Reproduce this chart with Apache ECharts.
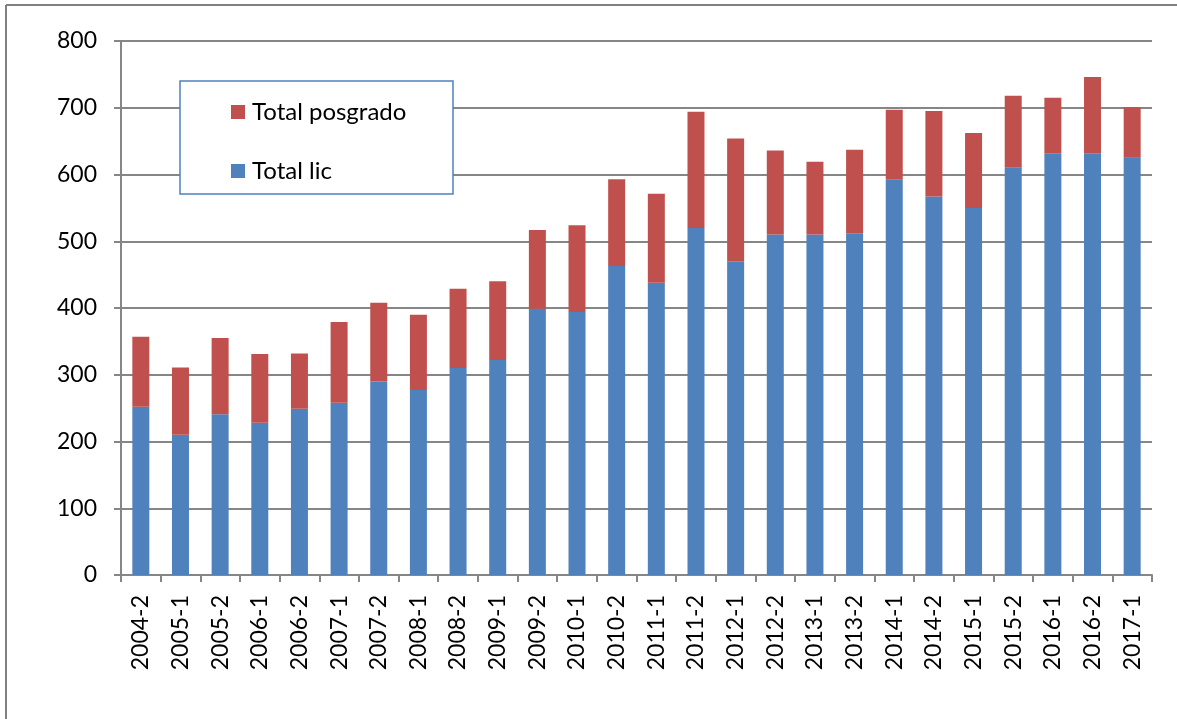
<!DOCTYPE html>
<html>
<head>
<meta charset="utf-8">
<script src="https://cdn.jsdelivr.net/npm/echarts@6/dist/echarts.min.js"></script>
<style>
  html, body { margin: 0; padding: 0; background: #fff; }
  #chart { width: 1177px; height: 719px; }
</style>
</head>
<body>
<div id="chart"></div>
<script>
// periods (semesters)
const periods = ['2004-2', '2005-1', '2005-2', '2006-1', '2006-2', '2007-1', '2007-2', '2008-1', '2008-2',
  '2009-1', '2009-2', '2010-1', '2010-2', '2011-1', '2011-2', '2012-1', '2012-2', '2013-1', '2013-2',
  '2014-1', '2014-2', '2015-1', '2015-2', '2016-1', '2016-2', '2017-1']
// undergraduate totals
const totalLic = [252, 210, 241, 228, 249, 258, 290, 277, 310, 322, 399, 394, 463, 438, 520, 470, 510, 510, 512,
  592, 567, 550, 610, 632, 632, 625]
// graduate totals (stacked on top)
const totalPosgrado = [105, 101, 114, 103, 83, 121, 118, 113, 119, 118, 118, 130, 130, 133, 174, 184, 126, 109, 125,
  105, 128, 112, 108, 83, 114, 76]
const yTicks = { min: 0, max: 800, interval: 100 }

const font = 'Lato'
const gridGray = '#868686'

const chart = echarts.init(document.getElementById('chart'))
chart.setOption({
  animation: false,
  color: ['#c0504d', '#4f81bd'],
  grid: { left: 121, right: 25, top: 41, bottom: 144 },
  graphic: [
    { type: 'line', shape: { x1: 6, y1: 5, x2: 1177, y2: 5 }, style: { stroke: '#808080', lineWidth: 2 } },
    { type: 'line', shape: { x1: 6, y1: 5, x2: 6, y2: 719 }, style: { stroke: '#808080', lineWidth: 2 } },
    {
      type: 'rect', z: 5,
      shape: { x: 180, y: 81, width: 273, height: 113 },
      style: { fill: '#fff', stroke: '#4f81bd', lineWidth: 1.5 }
    }
  ],
  legend: {
    z: 10,
    orient: 'vertical',
    left: 226,
    top: 95,
    itemWidth: 14,
    itemHeight: 14,
    itemGap: 35,
    icon: 'rect',
    data: ['Total posgrado', 'Total lic'],
    textStyle: { fontFamily: font, fontSize: 24, lineHeight: 24, color: '#000', padding: [0, 0, 0, 2] }
  },
  xAxis: {
    type: 'category',
    data: periods,
    axisLine: { lineStyle: { color: gridGray, width: 2 } },
    axisTick: { show: true, length: 7, lineStyle: { color: gridGray, width: 2 } },
    axisLabel: { rotate: 90, margin: 20, fontFamily: font, fontSize: 23, color: '#000', interval: 0 }
  },
  yAxis: {
    type: 'value',
    min: yTicks.min,
    max: yTicks.max,
    interval: yTicks.interval,
    axisLine: { show: true, lineStyle: { color: gridGray, width: 2 } },
    axisTick: { show: true, length: 7, lineStyle: { color: gridGray, width: 2 } },
    splitLine: { lineStyle: { color: gridGray, width: 2 } },
    axisLabel: { margin: 24, fontFamily: font, fontSize: 23, color: '#000' }
  },
  series: [
    {
      name: 'Total lic', type: 'bar', stack: 'total', barWidth: 17,
      itemStyle: { color: '#4f81bd' },
      data: totalLic
    },
    {
      name: 'Total posgrado', type: 'bar', stack: 'total', barWidth: 17,
      itemStyle: { color: '#c0504d' },
      data: totalPosgrado
    }
  ]
})
</script>
</body>
</html>
